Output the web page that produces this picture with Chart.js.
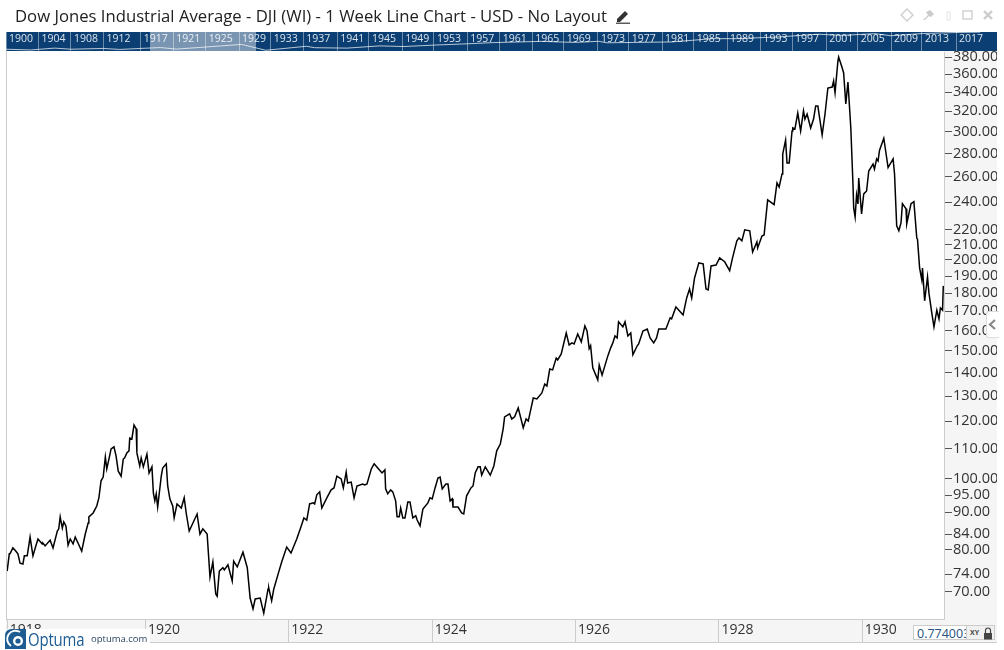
<!DOCTYPE html>
<html>
<head>
<meta charset="utf-8">
<title>Dow Jones Industrial Average</title>
<script src="https://cdn.jsdelivr.net/npm/chart.js@4/dist/chart.umd.min.js"></script>
<style>
  html, body { margin: 0; padding: 0; background: #fff; }
  body { width: 1004px; height: 650px; position: relative; overflow: hidden; font-family: "Open Sans", sans-serif; }
  #title { position: absolute; left: 15px; top: 4px; font-size: 16.7px; line-height: 24px; color: #222; white-space: nowrap; }
  #pencil { position: absolute; left: 615px; top: 8px; }
  #winIcons { position: absolute; left: 898px; top: 6px; }
  #strip { position: absolute; left: 6px; top: 32px; background: #0b3f73; }
  #selection { position: absolute; left: 150px; top: 32px; width: 106px; height: 19px; background: rgba(255,255,255,0.45); }
  #axisPanel { position: absolute; left: 944px; top: 51px; width: 53px; height: 568px; background: #f5f5f5; }
  #timePanel { position: absolute; left: 6px; top: 619px; width: 991px; height: 23px; background: #f5f5f5; border-bottom: 1px solid #ccc; }
  #leftEdge { position: absolute; left: 6px; top: 51px; width: 1px; height: 569px; background: #ccc; }
  #main { position: absolute; left: 0; top: 0; }
  #tab { position: absolute; left: 986px; top: 311px; width: 13px; height: 27px; background: #fff; border: 1px solid #ddd; border-right: 0; border-radius: 3px 0 0 3px; box-sizing: border-box; }
  #logo { position: absolute; left: 5px; top: 629px; width: 145px; height: 21px; background: #fff; }
  #logo .name { position: absolute; left: 23px; top: -2px; font-size: 18px; line-height: 24px; letter-spacing: -0.2px; color: #1c5c93; transform: scaleX(0.83); transform-origin: left center; }
  #logo .site { position: absolute; left: 86px; top: 3px; font-size: 9.5px; line-height: 14px; color: #2a4560; }
  #readout { position: absolute; left: 913px; top: 625px; width: 54px; height: 15px; background: #fff; border: 1px solid #ccc; box-sizing: border-box; font-size: 12.5px; line-height: 15px; color: #23527c; overflow: hidden; white-space: nowrap; padding-left: 3px; }
  #lockBox { position: absolute; left: 967px; top: 625px; width: 28px; height: 15px; background: #f0f0f0; border: 1px solid #ccc; border-left: 0; box-sizing: border-box; }
  #lockBox span { position: absolute; left: 3px; top: 2px; font-size: 7px; line-height: 10px; font-weight: 700; color: #444; }
  #lockBox svg { position: absolute; left: 16px; top: 1px; }
</style>
</head>
<body>
<div id="axisPanel"></div>
<div id="timePanel"></div>
<div id="leftEdge"></div>
<canvas id="main" width="1004" height="650"></canvas>
<div id="title">Dow Jones Industrial Average - DJI (WI) - 1 Week Line Chart - USD - No Layout</div>
<svg id="pencil" width="16" height="16" viewBox="0 0 16 16">
  <path d="M2 11 L10 3 L13 6 L5 14 L2 14 Z" fill="#333"/><rect x="1" y="14.6" width="14" height="1.2" fill="#333"/>
</svg>
<svg id="winIcons" width="100" height="20" viewBox="0 0 100 20">
  <path d="M9 3 L15 9 L9 15 L3 9 Z" fill="none" stroke="#ccc" stroke-width="1.3"/>
  <path d="M25 14 L30 9 L28 6 L32 4 L36 8 L33 11 L31 10 L27 14 Z" fill="#ccc"/>
  <rect x="49" y="6" width="3" height="8" fill="none" stroke="#e4e4e4"/>
  <rect x="65" y="5" width="9" height="8" fill="none" stroke="#ccc" stroke-width="1.3"/>
  <path d="M86 5 L94 13 M94 5 L86 13" stroke="#ccc" stroke-width="2.4"/>
</svg>
<canvas id="strip" width="991" height="19"></canvas>
<div id="selection"></div>
<div id="tab"><svg width="12" height="25" viewBox="0 0 12 25"><path d="M8 8 L3 12.5 L8 17" fill="none" stroke="#888" stroke-width="2.2"/></svg></div>
<div id="logo">
  <svg width="21" height="20" viewBox="0 0 21 20" style="position:absolute;left:0;top:0">
    <path d="M0 20 L0 7 Q0 0 7 0 L21 0 L21 20 Z" fill="#1c5c93"/>
    <path d="M6 17 A8 8 0 0 1 15 3" fill="none" stroke="#fff" stroke-width="2"/>
    <circle cx="13" cy="12" r="5" fill="#fff"/><circle cx="13" cy="12" r="2.6" fill="#1c5c93"/>
  </svg>
  <span class="name">Optuma</span><span class="site">optuma.com</span>
</div>
<div id="readout">0.774003</div>
<div id="lockBox"><span>XY</span><svg width="10" height="13" viewBox="0 0 10 13"><path d="M2.5 6 V3.5 A2.5 2.5 0 0 1 7.5 3.5 V6" fill="none" stroke="#444" stroke-width="1.2"/><rect x="1" y="6" width="8" height="6.5" fill="#444"/></svg></div>

<script>
// weekly closes: date as decimal year, value in USD
const weekDates = [
  1918.07,1918.10,1918.11,1918.15,1918.19,1918.22,1918.25,1918.29,1918.31,1918.35,1918.39,1918.43,1918.47,1918.50,1918.56,1918.57,1918.60,1918.67,1918.71,1918.77,1918.79,1918.81,1918.84,1918.86,1918.89,1918.92,1918.95,1918.99,
  1919.02,1919.06,1919.11,1919.16,1919.20,1919.21,1919.27,1919.32,1919.35,1919.38,1919.41,1919.44,1919.46,1919.49,1919.52,1919.56,1919.59,1919.62,1919.66,1919.69,1919.71,1919.74,1919.77,1919.78,1919.81,1919.84,1919.87,1919.88,1919.92,1919.94,1919.97,
  1920.02,1920.05,1920.09,1920.11,1920.13,1920.15,1920.17,1920.22,1920.24,1920.29,1920.31,1920.34,1920.38,1920.40,1920.44,1920.50,1920.54,1920.57,1920.61,1920.72,1920.76,1920.80,1920.86,1920.90,1920.94,1920.98,
  1921.00,1921.03,1921.08,1921.10,1921.15,1921.21,1921.23,1921.28,1921.36,1921.42,1921.46,1921.50,1921.53,1921.60,1921.65,1921.71,1921.72,1921.76,1921.79,1921.85,1921.90,1921.97,
  1922.03,1922.11,1922.16,1922.21,1922.25,1922.29,1922.34,1922.36,1922.39,1922.43,1922.46,1922.53,1922.59,1922.63,1922.67,1922.73,1922.76,1922.80,1922.82,1922.87,1922.91,1922.95,
  1923.03,1923.06,1923.09,1923.15,1923.19,1923.24,1923.30,1923.34,1923.35,1923.38,1923.42,1923.45,1923.49,1923.51,1923.54,1923.56,1923.59,1923.62,1923.66,1923.69,1923.73,1923.77,1923.79,1923.83,1923.87,1923.94,1923.97,
  1924.00,1924.04,1924.08,1924.11,1924.14,1924.19,1924.22,1924.25,1924.28,1924.29,1924.36,1924.41,1924.44,1924.48,1924.54,1924.57,1924.60,1924.64,1924.67,1924.69,1924.74,1924.81,1924.86,1924.90,1924.95,1924.99,
  1925.01,1925.08,1925.11,1925.15,1925.20,1925.27,1925.31,1925.34,1925.38,1925.41,1925.46,1925.53,1925.57,1925.60,1925.64,1925.68,1925.73,1925.75,1925.80,1925.87,1925.91,1925.95,1925.98,
  1926.03,1926.08,1926.13,1926.16,1926.19,1926.21,1926.24,1926.31,1926.33,1926.37,1926.45,1926.49,1926.52,1926.55,1926.58,1926.60,1926.66,1926.69,1926.73,1926.77,1926.80,1926.86,1926.88,1926.94,
  1927.00,1927.04,1927.09,1927.13,1927.16,1927.26,1927.32,1927.34,1927.40,1927.50,1927.55,1927.59,1927.62,1927.66,1927.72,1927.78,1927.82,1927.85,1927.89,1927.96,
  1928.01,1928.08,1928.15,1928.19,1928.25,1928.28,1928.32,1928.36,1928.43,1928.47,1928.53,1928.54,1928.60,1928.63,1928.68,1928.77,1928.81,1928.84,1928.88,1928.89,1928.93,1928.95,1928.98,
  1929.02,1929.03,1929.06,1929.10,1929.14,1929.18,1929.20,1929.23,1929.28,1929.32,1929.35,1929.38,1929.44,1929.48,1929.52,1929.58,1929.60,1929.62,1929.66,1929.67,1929.72,1929.74,1929.77,1929.80,1929.84,1929.87,1929.88,1929.90,1929.92,1929.94,1929.95,1929.99,
  1930.02,1930.06,1930.09,1930.15,1930.17,1930.20,1930.22,1930.24,1930.30,1930.36,1930.43,1930.45,1930.48,1930.51,1930.54,1930.56,1930.61,1930.62,1930.68,1930.72,1930.76,1930.77,1930.80,1930.83,1930.84,1930.87,1930.91,1930.93,1930.97,
  1931.00,1931.04,1931.07,1931.09,1931.12,1931.13
];
const closeValues = [
  74.7,78.9,78.9,80.4,79.6,78.9,76.6,76.4,78.4,78.4,83.2,78.4,80.9,82.7,81.4,81.6,80.9,82.4,80.4,84.8,85.4,88.7,85.6,87.3,86.2,81.1,82.7,81.4,
  83.2,81.6,79.6,84.0,87.0,88.7,89.8,91.8,94.2,99.4,100.6,107.2,103.2,106.5,110.0,110.7,107.5,102.5,100.9,106.5,106.9,108.6,109.3,113.8,113.5,118.6,117.2,108.6,104.2,106.9,103.9,
  108.2,101.9,103.9,95.7,93.3,95.4,91.5,100.9,103.5,104.9,97.8,93.9,91.8,88.4,92.4,91.2,94.2,89.5,84.8,89.5,84.0,85.4,84.0,73.3,76.9,69.5,
  69.0,74.7,75.5,75.0,76.2,72.4,77.1,75.7,79.3,75.5,68.6,66.3,68.4,68.6,65.4,70.6,70.8,68.0,70.6,74.0,76.9,80.6,
  79.1,82.7,85.4,88.4,87.8,92.4,92.7,92.4,95.1,96.0,91.2,94.2,96.6,97.2,100.9,100.0,97.2,102.2,98.7,99.0,94.2,97.8,
  98.4,98.1,98.4,103.2,104.9,103.5,101.9,102.9,96.9,95.4,96.6,96.0,93.3,88.7,88.7,91.2,88.4,88.4,93.0,93.0,88.4,89.0,87.8,86.2,90.9,92.7,94.2,
  93.9,97.2,100.3,100.6,96.9,98.4,98.4,93.3,93.9,91.5,91.5,89.8,89.5,94.8,97.2,97.8,101.9,103.9,103.9,101.2,103.9,101.2,104.2,109.3,111.7,117.2,
  121.7,122.9,120.9,121.7,125.2,117.6,120.9,120.1,125.2,129.2,128.8,131.3,135.0,134.2,141.6,141.2,146.6,145.7,148.5,158.7,152.8,153.8,153.3,
  158.2,154.3,162.3,159.7,151.0,152.4,142.1,136.8,143.4,138.9,147.6,151.4,153.8,157.2,156.2,164.4,161.8,164.4,157.2,158.7,148.1,152.4,153.3,159.7,
  160.7,156.2,153.8,156.2,160.7,160.7,166.5,166.0,172.3,168.0,177.3,182.4,177.3,188.9,198.1,197.5,182.4,181.9,196.2,196.8,
  201.3,198.8,193.3,201.3,212.4,214.4,212.4,220.0,219.3,205.1,211.7,207.7,215.7,216.4,241.8,238.2,255.2,251.9,262.5,279.6,292.2,271.7,271.7,
  300.7,303.6,302.6,318.3,300.7,320.5,312.3,317.3,303.6,312.3,325.5,325.5,297.0,317.3,344.5,345.6,352.2,339.5,375.2,380.0,367.0,361.3,327.5,351.1,303.6,254.3,235.7,229.1,245.6,238.7,259.2,231.3,
  246.4,248.7,264.9,270.9,266.6,275.3,273.5,282.8,293.9,267.9,275.3,262.5,222.7,219.3,224.8,239.0,235.1,224.1,239.0,240.5,214.3,213.6,194.9,187.8,194.9,175.7,189.5,180.0,169.0,
  161.8,170.6,165.9,171.8,170.6,184.2
];

// axis ticks
const priceTicks = [380,360,340,320,300,280,260,240,220,210,200,190,180,170,160,150,140,130,120,110,100,95,90,84,80,74,70];
const yearTicks = [1918.07,1920,1922,1924,1926,1928,1930];

// navigator strip: the whole history in small, and its year labels
const stripLabels = ['1900','1904','1908','1912','1917','1921','1925','1929','1933','1937','1941','1945','1949','1953','1957','1961','1965','1969','1973','1977','1981','1985','1989','1993','1997','2001','2005','2009','2013','2017'];
const stripTicks = [1900,1904,1908,1912,1916.6,1920.6,1924.6,1928.7,1932.6,1936.6,1940.8,1944.7,1948.8,1952.7,1956.8,1960.8,1964.8,1968.7,1972.9,1976.7,1980.8,1984.7,1988.8,1992.9,1996.8,2001,2004.9,2009,2012.8,2017];
const stripYears = [1900,1903,1906,1908,1912,1914,1917,1919,1921,1925,1929,1932,1937,1938,1942,1946,1949,1953,1957,1960,1966,1970,1973,1974,1982,1987,1990,1995,2000,2003,2007,2009,2013,2017,2020];
const stripValues = [65,50,95,65,85,60,90,115,68,150,340,45,180,110,95,205,165,280,430,640,990,680,1000,600,800,2500,2500,4500,11500,7800,14000,6800,15000,21000,24000];

const mainChart = new Chart(document.getElementById('main').getContext('2d'), {
  type: 'line',
  data: {
    datasets: [{
      data: weekDates.map((d, i) => ({ x: d, y: closeValues[i] })),
      borderColor: '#000',
      borderWidth: 1.5,
      pointRadius: 0,
      tension: 0
    }]
  },
  options: {
    responsive: false,
    animation: false,
    parsing: false,
    layout: { padding: { left: 7, top: 52, right: 7, bottom: 8 } },
    plugins: { legend: { display: false }, tooltip: { enabled: false } },
    scales: {
      x: {
        type: 'linear',
        min: 1918.068,
        max: 1931.14,
        afterFit: scale => { scale.height = 23; },
        afterBuildTicks: scale => { scale.ticks = yearTicks.map(v => ({ value: v })); },
        border: { color: '#ccc' },
        grid: { drawOnChartArea: false, tickLength: 23, color: '#ccc' },
        ticks: {
          autoSkip: false,
          maxRotation: 0,
          align: 'start',
          labelOffset: 2.5,
          padding: -20,
          color: '#333',
          font: { family: 'Open Sans', size: 14 },
          callback: v => String(Math.floor(v))
        }
      },
      y: {
        type: 'logarithmic',
        position: 'right',
        min: 64.2,
        max: 386.1,
        afterFit: scale => { scale.width = 53; },
        afterBuildTicks: scale => { scale.ticks = priceTicks.map(v => ({ value: v })); },
        border: { color: '#ccc' },
        grid: { drawOnChartArea: false, tickLength: 8, color: '#555' },
        ticks: {
          autoSkip: false,
          padding: 1,
          color: '#333',
          font: { family: 'Open Sans', size: 14.5 },
          callback: v => v.toFixed(2)
        }
      }
    }
  }
});

// year labels in the strip sit just right of each separator
const stripLabelPlugin = {
  id: 'stripLabels',
  afterDraw(chart) {
    const ctx = chart.ctx;
    ctx.save();
    ctx.font = '10.5px "Open Sans"';
    ctx.fillStyle = 'rgba(255,255,255,0.85)';
    ctx.textBaseline = 'middle';
    stripTicks.forEach((t, i) => {
      ctx.fillText(stripLabels[i], chart.scales.x.getPixelForValue(t) + 3, 7);
    });
    ctx.restore();
  }
};

const stripChart = new Chart(document.getElementById('strip').getContext('2d'), {
  type: 'line',
  data: {
    datasets: [{
      data: stripYears.map((d, i) => ({ x: d, y: stripValues[i] })),
      borderColor: 'rgba(255,255,255,0.7)',
      borderWidth: 1,
      pointRadius: 0,
      tension: 0
    }]
  },
  plugins: [stripLabelPlugin],
  options: {
    responsive: false,
    animation: false,
    parsing: false,
    plugins: { legend: { display: false }, tooltip: { enabled: false } },
    scales: {
      x: {
        type: 'linear',
        min: 1900,
        max: 2022.04,
        afterFit: scale => { scale.height = 0; },
        afterBuildTicks: scale => { scale.ticks = stripTicks.map(v => ({ value: v })); },
        border: { display: false },
        grid: { color: 'rgba(255,255,255,0.4)', drawTicks: false },
        ticks: { display: false }
      },
      y: { type: 'logarithmic', display: false, min: 35, max: 25000 }
    }
  }
});
</script>
</body>
</html>
